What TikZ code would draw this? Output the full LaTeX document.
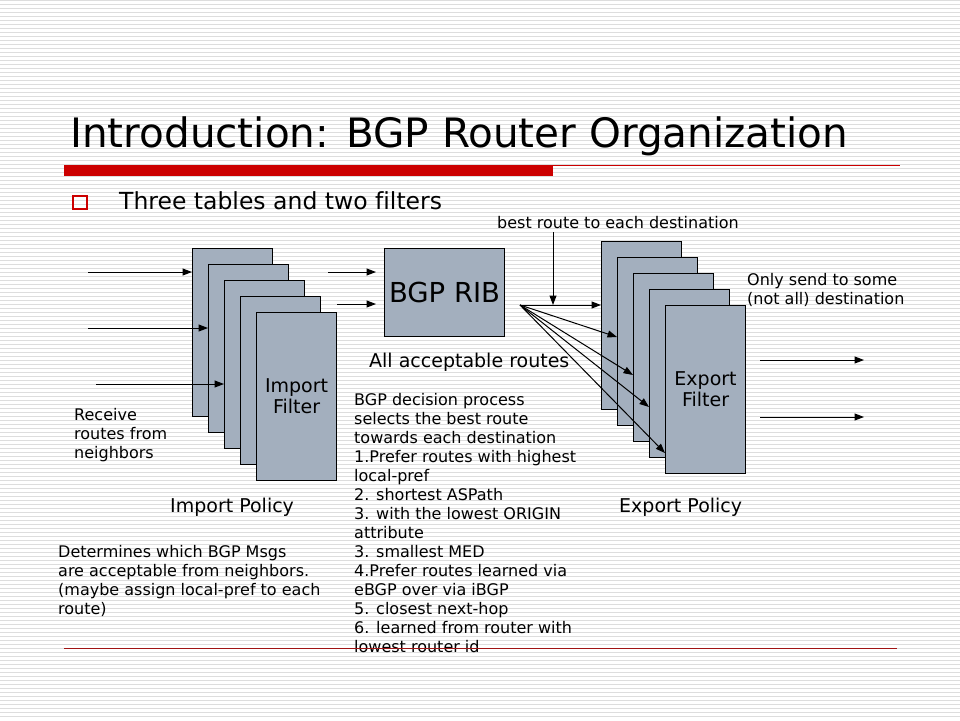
\documentclass[tikz,border=0pt]{standalone}
\usepackage{fontspec}
\setmainfont[Ligatures=NoCommon]{DejaVu Sans}
\usetikzlibrary{arrows.meta}
\definecolor{boxfill}{RGB}{163,175,190}
\definecolor{stripecol}{RGB}{221,221,221}
\definecolor{hdrred}{RGB}{204,0,0}
\definecolor{footred}{RGB}{160,20,20}
\newcommand{\mlleft}[1]{\begin{tabular}[t]{@{}l@{}}#1\end{tabular}}
\begin{document}
\begin{tikzpicture}[x=1pt,y=-1pt,
  fbox/.style={draw=black,fill=boxfill,line width=1.1pt,minimum width=80pt,minimum height=168pt,inner sep=0pt,anchor=north west},
  arr/.style={-{Triangle[length=9.5pt,width=7pt]},line width=1pt},
  smalltxt/.style={font=\fontsize{16}{19}\selectfont,inner sep=0pt,anchor=base west},
  midtxt/.style={font=\fontsize{19}{21}\selectfont,inner sep=0pt}]
\fill[white] (0,0) rectangle (960,720);
\useasboundingbox (0,0) rectangle (960,720);
\foreach \k in {0,...,179} \draw[stripecol,line width=1.3pt] (0,4*\k+0.6) -- (960,4*\k+0.6);
% header
\node[font=\fontsize{40.5}{48}\selectfont,inner sep=0pt,anchor=base west] (title) at (70,147) {Introduction: BGP Router Organization};
\fill[hdrred] (64,165) rectangle (553,176);
\draw[hdrred,line width=1.2pt] (553,165.6) -- (900,165.6);
\draw[hdrred,line width=1.3pt] (73,196) rectangle (87,209);
\node[font=\fontsize{23.5}{28}\selectfont,inner sep=0pt,anchor=base west] (bullet) at (119,209) {Three tables and two filters};
% import stack
\node[fbox] (i1) at (192,248) {};
\node[fbox] (i2) at (208,264) {};
\node[fbox] (i3) at (224,280) {};
\node[fbox] (i4) at (240,296) {};
\node[fbox,midtxt,align=center] (i5) at (256,312) {Import\\Filter};
\coordinate (in1) at (88,272);
\coordinate (in2) at (88,328);
\coordinate (in3) at (96,384);
\draw[arr] (in1) -- (in1 -| i1.west);
\draw[arr] (in2) -- (in2 -| i2.west);
\draw[arr] (in3) -- (in3 -| i3.west);
% RIB
\node[fbox,minimum width=120pt,minimum height=88pt,font=\fontsize{27.5}{32}\selectfont] (rib) at (384,248) {BGP RIB};
\coordinate (r1) at (328,272);
\coordinate (r2) at (337,304);
\draw[arr,shorten >=8pt] (r1) -- (r1 -| rib.west);
\draw[arr,shorten >=8pt] (r2) -- (r2 -| rib.west);
\node[midtxt,anchor=base west] (allacc) at (369,367) {All acceptable routes};
% export stack
\node[fbox] (e1) at (601,241) {};
\node[fbox] (e2) at (617,257) {};
\node[fbox] (e3) at (633,273) {};
\node[fbox] (e4) at (649,289) {};
\node[fbox,midtxt,align=center] (e5) at (665,305) {Export\\Filter};
\coordinate (fan) at (520,305);
\draw[arr] (fan) -- (fan -| e1.west);
\draw[arr] (fan) -- (e2.west |- 0,337);
\draw[arr] (fan) -- (e3.west |- 0,375);
\draw[arr] (fan) -- (e4.west |- 0,407);
\draw[arr] (fan) -- (e5.west |- 0,453);
\node[smalltxt] (best) at (497,228) {best route to each destination};
\coordinate (bt) at (553,232);
\draw[arr] (bt) -- (bt |- fan);
\node[smalltxt] (only) at (747,285) {\mlleft{Only send to some\\(not all) destination}};
\coordinate (o1) at (760,360);
\coordinate (o1e) at (864,360);
\coordinate (o2) at (760,417);
\coordinate (o2e) at (864,417);
\draw[arr] (o1) -- (o1e);
\draw[arr] (o2) -- (o2e);
% texts
\node[smalltxt] (recv) at (74,420) {\mlleft{Receive\\routes from\\neighbors}};
\node[midtxt,anchor=base west] (ipol) at (170,512) {Import Policy};
\node[midtxt,anchor=base west] (epol) at (619,512) {Export Policy};
\node[smalltxt] (det) at (58,557) {\mlleft{Determines which BGP Msgs\\are acceptable from neighbors.\\(maybe assign local-pref to each\\route)}};
\node[smalltxt] (dec) at (354,405) {\mlleft{BGP decision process\\selects the best route\\towards each destination\\1.Prefer routes with highest\\local-pref\\2. shortest ASPath\\3. with the lowest ORIGIN\\attribute\\3. smallest MED\\4.Prefer routes learned via\\eBGP over via iBGP\\5. closest next-hop\\6. learned from router with\\lowest router id}};
\draw[footred,line width=1pt] (64,648) -- (897,648);
\end{tikzpicture}
\end{document}
